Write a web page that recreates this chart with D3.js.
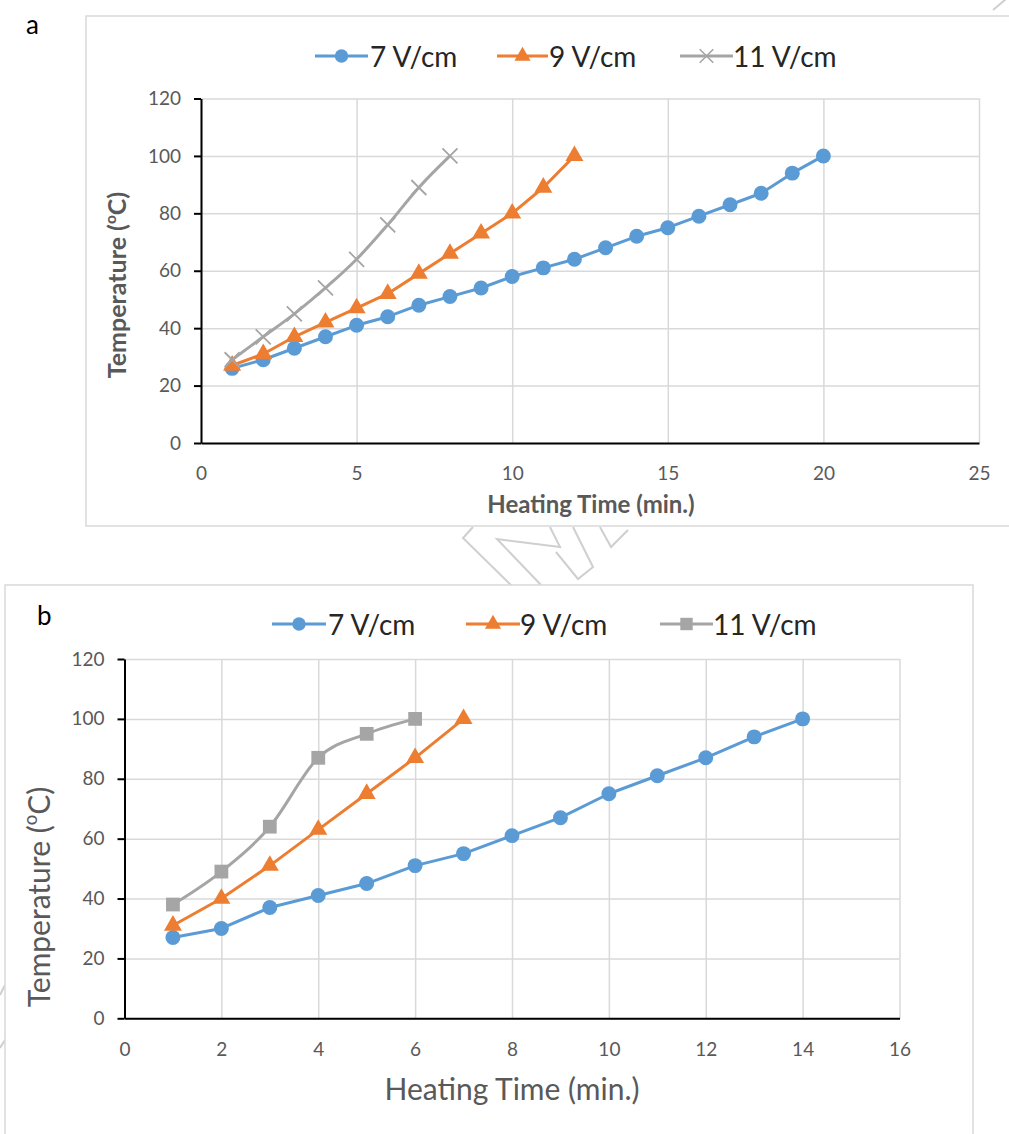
<!DOCTYPE html>
<html>
<head>
<meta charset="utf-8">
<title>Heating curves</title>
<script src="https://cdn.jsdelivr.net/npm/d3@7"></script>
<style>
  body { margin: 0; background: #fff; }
  text { font-family: Lato, "Open Sans", sans-serif; }
</style>
</head>
<body>
<script>
// series names / colours shared by both panels
var seriesNames = ["7 V/cm", "9 V/cm", "11 V/cm"];
var seriesColors = ["#5b9bd5", "#ed7d31", "#a5a5a5"];

// panel a
var timeA7 = [1, 2, 3, 4, 5, 6, 7, 8, 9, 10, 11, 12, 13, 14, 15, 16, 17, 18, 19, 20];
var tempA7 = [26, 29, 33, 37, 41, 44, 48, 51, 54, 58, 61, 64, 68, 72, 75, 79, 83, 87, 94, 100];
var timeA9 = [1, 2, 3, 4, 5, 6, 7, 8, 9, 10, 11, 12];
var tempA9 = [27, 31, 37, 42, 47, 52, 59, 66, 73, 80, 89, 100];
var timeA11 = [1, 2, 3, 4, 5, 6, 7, 8];
var tempA11 = [29, 37, 45, 54, 64, 76, 89, 100];
var xTicksA = [0, 5, 10, 15, 20, 25];

// panel b
var timeB7 = [1, 2, 3, 4, 5, 6, 7, 8, 9, 10, 11, 12, 13, 14];
var tempB7 = [27, 30, 37, 41, 45, 51, 55, 61, 67, 75, 81, 87, 94, 100];
var timeB9 = [1, 2, 3, 4, 5, 6, 7];
var tempB9 = [31, 40, 51, 63, 75, 87, 100];
var timeB11 = [1, 2, 3, 4, 5, 6];
var tempB11 = [38, 49, 64, 87, 95, 100];
var xTicksB = [0, 2, 4, 6, 8, 10, 12, 14, 16];

var yTicks = [0, 20, 40, 60, 80, 100, 120];

var W = 1009, H = 1134;
var GRID = "#d9d9d9", LABEL = "#595959";

var svg = d3.select("body").append("svg")
  .attr("width", W)
  .attr("height", H);

// faint watermark behind everything
var wm = svg.append("g")
  .attr("fill", "none")
  .attr("stroke", "#cfcfcf")
  .attr("stroke-width", 2)
  .attr("stroke-linejoin", "miter");
var wmLines = [
  [[473, 527], [463, 538], [512, 586]],
  [[550, 527], [560, 547], [497, 539], [542, 586]],
  [[573, 527], [593, 567], [578, 579], [556, 552]],
  [[600, 527], [611, 547], [628, 530]],
  [[993, 10], [1012, -6]],
  [[5, 985], [0, 995]],
  [[5, 1040], [0, 1048]]
];
wmLines.forEach(function(pts) {
  wm.append("path").attr("d", d3.line()(pts));
});

var markerPath = function(type) {
  if (type == "circle") return d3.symbol().type(d3.symbolCircle).size(175)();
  if (type == "triangle") return d3.symbol().type(d3.symbolTriangle).size(140)();
  if (type == "square") return d3.symbol().type(d3.symbolSquare).size(190)();
  // x mark
  var s = 7.5;
  return "M" + (-s) + "," + (-s) + "L" + s + "," + s + "M" + (-s) + "," + s + "L" + s + "," + (-s);
};

var drawMarker = function(g, type, color, x, y, scale) {
  var p = g.append("path")
    .attr("d", markerPath(type))
    .attr("transform", "translate(" + x + "," + y + ") scale(" + (scale || 1) + ")");
  if (type == "x") {
    p.attr("fill", "none").attr("stroke", color).attr("stroke-width", 1.8);
  } else {
    p.attr("fill", color);
  }
};

var drawPanel = function(cfg) {
  var g = svg.append("g");

  // chart frame
  g.append("rect")
    .attr("x", cfg.frame[0])
    .attr("y", cfg.frame[1])
    .attr("width", cfg.frame[2])
    .attr("height", cfg.frame[3])
    .attr("fill", "white")
    .attr("stroke", GRID)
    .attr("stroke-width", 1.5);

  g.append("text")
    .text(cfg.letter)
    .attr("x", cfg.letterPos[0])
    .attr("y", cfg.letterPos[1])
    .attr("font-size", 26)
    .attr("fill", "#000");

  var x = d3.scaleLinear().domain(cfg.xDomain).range([cfg.plot[0], cfg.plot[1]]);
  var y = d3.scaleLinear().domain([0, 120]).range([cfg.plot[3], cfg.plot[2]]);

  // gridlines
  g.append("g")
    .attr("transform", "translate(0," + cfg.plot[3] + ")")
    .call(d3.axisBottom(x).tickValues(cfg.xTicks).tickSize(-(cfg.plot[3] - cfg.plot[2])).tickFormat(""))
    .call(function(s) {
      s.select(".domain").remove();
      s.selectAll("line").attr("stroke", GRID).attr("stroke-width", 1.5);
    });
  g.append("g")
    .attr("transform", "translate(" + cfg.plot[0] + ",0)")
    .call(d3.axisLeft(y).tickValues(yTicks).tickSize(-(cfg.plot[1] - cfg.plot[0])).tickFormat(""))
    .call(function(s) {
      s.select(".domain").remove();
      s.selectAll("line").attr("stroke", GRID).attr("stroke-width", 1.5);
    });

  // axes
  var yAxis = g.append("g")
    .attr("transform", "translate(" + cfg.plot[0] + ",0)")
    .call(d3.axisLeft(y).tickValues(yTicks).tickSize(7).tickSizeOuter(0).tickPadding(cfg.yPad));
  var xAxis = g.append("g")
    .attr("transform", "translate(0," + cfg.plot[3] + ")")
    .call(d3.axisBottom(x).tickValues(cfg.xTicks).tickSize(0).tickSizeOuter(0).tickPadding(cfg.xPad));
  [xAxis, yAxis].forEach(function(a) {
    a.select(".domain").attr("stroke", "#000").attr("stroke-width", 2);
    a.selectAll(".tick line").attr("stroke", "#000").attr("stroke-width", 2);
    a.selectAll(".tick text")
      .attr("fill", LABEL)
      .attr("font-size", cfg.tickSize)
      .attr("font-family", "Lato, sans-serif");
  });

  // axis titles
  g.append("text")
    .text("Heating Time (min.)")
    .attr("x", cfg.xTitle[0])
    .attr("y", cfg.xTitle[1])
    .attr("text-anchor", "middle")
    .attr("dominant-baseline", "middle")
    .attr("font-size", cfg.xTitleSize)
    .attr("font-weight", cfg.titleWeight)
    .attr("fill", LABEL);

  var ys = cfg.yTitleSize;
  var yt = g.append("text")
    .attr("transform", "translate(" + cfg.yTitle[0] + "," + cfg.yTitle[1] + ") rotate(-90)")
    .attr("text-anchor", "middle")
    .attr("dominant-baseline", "middle")
    .attr("font-size", ys)
    .attr("font-weight", cfg.titleWeight)
    .attr("fill", LABEL);
  yt.append("tspan").text("Temperature (");
  yt.append("tspan").text("o").attr("font-size", ys * 0.62).attr("dy", -ys * 0.33);
  yt.append("tspan").text("C)").attr("dy", ys * 0.33);

  // series
  cfg.series.forEach(function(s, i) {
    var pts = s.t.map(function(t, j) { return [x(t), y(s.v[j])]; });
    var line = d3.line().curve(s.smooth ? d3.curveCatmullRom.alpha(0) : d3.curveLinear);
    g.append("path")
      .attr("d", line(pts))
      .attr("fill", "none")
      .attr("stroke", seriesColors[i])
      .attr("stroke-width", 3)
      .attr("stroke-linejoin", "round");
    pts.forEach(function(p) {
      drawMarker(g, cfg.markers[i], seriesColors[i], p[0], p[1]);
    });
  });

  // legend
  cfg.legend.forEach(function(L, i) {
    g.append("line")
      .attr("x1", L[0]).attr("x2", L[1])
      .attr("y1", cfg.legendY).attr("y2", cfg.legendY)
      .attr("stroke", seriesColors[i])
      .attr("stroke-width", 3);
    drawMarker(g, cfg.markers[i], seriesColors[i], (L[0] + L[1]) / 2, cfg.legendY, 0.9);
    g.append("text")
      .text(seriesNames[i])
      .attr("x", L[2])
      .attr("y", cfg.legendY)
      .attr("dominant-baseline", "central")
      .attr("font-size", cfg.legendSize)
      .attr("fill", "#262626");
  });
};

drawPanel({
  letter: "a",
  letterPos: [26, 34],
  frame: [86, 16, 940, 510],
  plot: [201, 979, 98.5, 443],
  xDomain: [0, 25],
  xTicks: xTicksA,
  xPad: 24,
  yPad: 13,
  tickSize: 19,
  xTitleSize: 24,
  yTitleSize: 25,
  titleWeight: "bold",
  xTitle: [591, 507],
  yTitle: [120, 285],
  legendY: 56,
  legendSize: 28,
  legend: [[315, 368, 370], [497, 548, 549], [680, 733, 733]],
  markers: ["circle", "triangle", "x"],
  series: [
    {t: timeA7, v: tempA7},
    {t: timeA9, v: tempA9},
    {t: timeA11, v: tempA11, smooth: true}
  ]
});

drawPanel({
  letter: "b",
  letterPos: [37, 625],
  frame: [5, 585, 968, 560],
  plot: [124.5, 899.5, 659, 1018.3],
  xDomain: [0, 16],
  xTicks: xTicksB,
  xPad: 24,
  yPad: 13,
  tickSize: 19,
  xTitleSize: 30,
  yTitleSize: 30,
  titleWeight: "normal",
  xTitle: [512, 1092],
  yTitle: [42, 897],
  legendY: 624,
  legendSize: 28,
  legend: [[272, 326, 328], [466, 520, 520], [660, 713, 713]],
  markers: ["circle", "triangle", "square"],
  series: [
    {t: timeB7, v: tempB7},
    {t: timeB9, v: tempB9},
    {t: timeB11, v: tempB11, smooth: true}
  ]
});
</script>
</body>
</html>
